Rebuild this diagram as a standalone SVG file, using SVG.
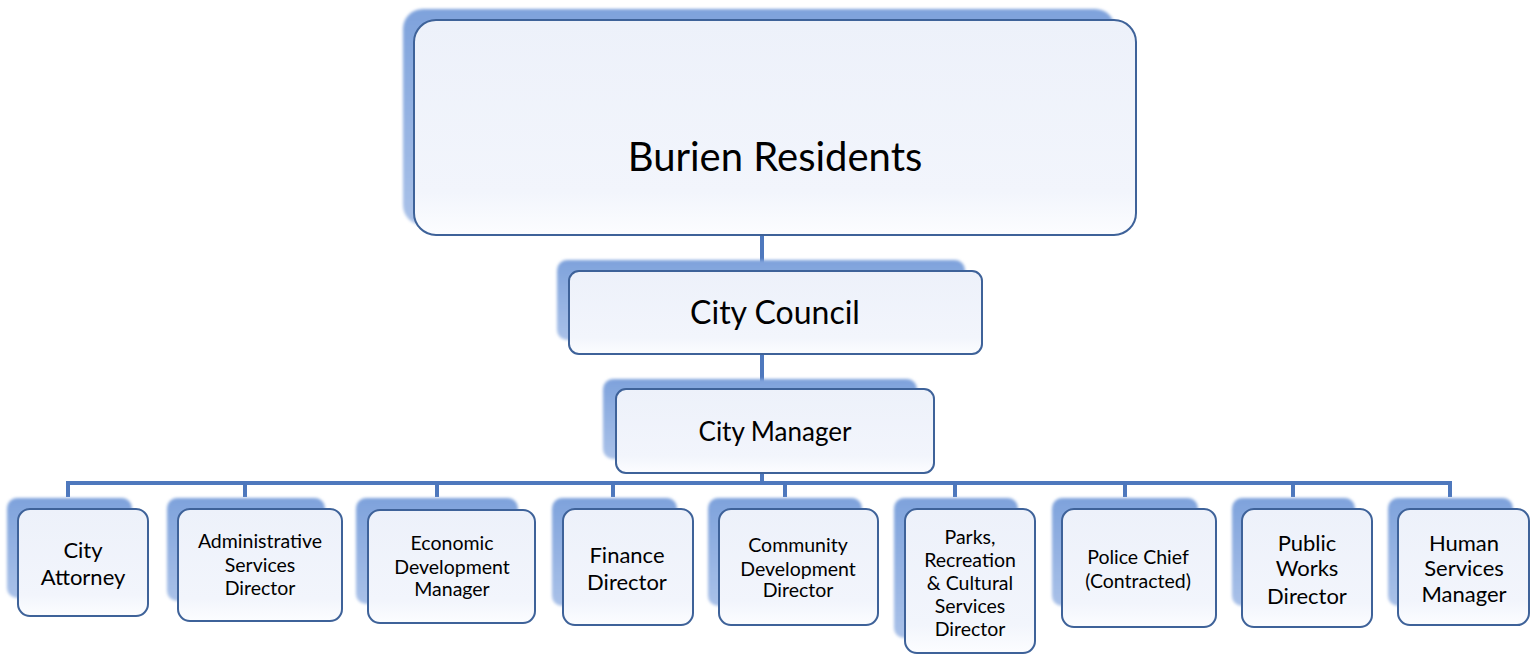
<svg xmlns="http://www.w3.org/2000/svg" width="1536" height="658" viewBox="0 0 1536 658">
<defs>
<linearGradient id="sh" x1="0" y1="0" x2="0" y2="1">
<stop offset="0" stop-color="#7ea2dc"/>
<stop offset="1" stop-color="#a9c1e8"/>
</linearGradient>
<linearGradient id="fr" x1="0" y1="0" x2="0" y2="1">
<stop offset="0" stop-color="#edf1fa"/>
<stop offset="0.8" stop-color="#f2f5fc"/>
<stop offset="1" stop-color="#fcfdff"/>
</linearGradient>
<filter id="blur" x="-10%" y="-10%" width="120%" height="120%">
<feGaussianBlur stdDeviation="1.5"/>
</filter>
</defs>
<style>
.sh{fill:url(#sh);filter:url(#blur);}
.fr{fill:url(#fr);stroke:#3e6299;stroke-width:2;}
.c{stroke:#4e78bd;stroke-width:4;fill:none;}
text{font-family:Lato,"Liberation Sans",sans-serif;fill:#000;text-anchor:middle;}
.t1{font-size:40px;}
.t2{font-size:32px;}
.t3{font-size:26px;}
.t4{font-size:22px;}
.t5{font-size:19.5px;}
</style>
<rect width="1536" height="658" fill="#fff"/>
<g id="connectors">
<line class="c" x1="762" y1="225" x2="762" y2="272"/>
<line class="c" x1="762" y1="350" x2="762" y2="390"/>
<line class="c" x1="762" y1="470" x2="762" y2="483"/>
<polyline class="c" points="68,497 68,483 1450,483 1450,497"/>
<line class="c" x1="245" y1="483" x2="245" y2="497"/>
<line class="c" x1="437" y1="483" x2="437" y2="497"/>
<line class="c" x1="613" y1="483" x2="613" y2="497"/>
<line class="c" x1="785" y1="483" x2="785" y2="497"/>
<line class="c" x1="955" y1="483" x2="955" y2="497"/>
<line class="c" x1="1125" y1="483" x2="1125" y2="497"/>
<line class="c" x1="1293" y1="483" x2="1293" y2="497"/>
</g>
<g id="burien">
<rect class="sh" x="403" y="9" width="712" height="216" rx="20"/>
<rect class="fr" x="414" y="20" width="722" height="215" rx="22"/>
<text class="t1" x="775" y="171">Burien Residents</text>
</g>
<g id="council">
<rect class="sh" x="557" y="260" width="408" height="80" rx="10"/>
<rect class="fr" x="569" y="271" width="413" height="83" rx="10"/>
<text class="t2" x="775" y="324">City Council</text>
</g>
<g id="manager">
<rect class="sh" x="603" y="379" width="314" height="80" rx="10"/>
<rect class="fr" x="616" y="389" width="318" height="84" rx="10"/>
<text class="t3" x="775" y="441">City Manager</text>
</g>
<g id="attorney">
<rect class="sh" x="7" y="498" width="125" height="100" rx="10"/>
<rect class="fr" x="18" y="509" width="130" height="107" rx="12"/>
<text class="t4" x="83" y="558">City</text>
<text class="t4" x="83" y="585">Attorney</text>
</g>
<g id="admin">
<rect class="sh" x="167" y="498" width="158" height="103" rx="10"/>
<rect class="fr" x="178" y="509" width="164" height="112" rx="12"/>
<text class="t5" x="260" y="548">Administrative</text>
<text class="t5" x="260" y="572">Services</text>
<text class="t5" x="260" y="595">Director</text>
</g>
<g id="economic">
<rect class="sh" x="356" y="498" width="162" height="106" rx="10"/>
<rect class="fr" x="368" y="510" width="167" height="113" rx="12"/>
<text class="t5" x="452" y="550">Economic</text>
<text class="t5" x="452" y="574">Development</text>
<text class="t5" x="452" y="596">Manager</text>
</g>
<g id="finance">
<rect class="sh" x="552" y="498" width="125" height="108" rx="10"/>
<rect class="fr" x="563" y="509" width="130" height="116" rx="12"/>
<text class="t4" x="627" y="563">Finance</text>
<text class="t4" x="627" y="590">Director</text>
</g>
<g id="community">
<rect class="sh" x="708" y="498" width="154" height="108" rx="10"/>
<rect class="fr" x="719" y="509" width="159" height="116" rx="12"/>
<text class="t5" x="798" y="552">Community</text>
<text class="t5" x="798" y="576">Development</text>
<text class="t5" x="798" y="597">Director</text>
</g>
<g id="parks">
<rect class="sh" x="894" y="498" width="124" height="140" rx="10"/>
<rect class="fr" x="905" y="509" width="130" height="144" rx="12"/>
<text class="t5" x="970" y="544">Parks,</text>
<text class="t5" x="970" y="567">Recreation</text>
<text class="t5" x="970" y="590">&amp; Cultural</text>
<text class="t5" x="970" y="613">Services</text>
<text class="t5" x="970" y="636">Director</text>
</g>
<g id="police">
<rect class="sh" x="1052" y="498" width="146" height="108" rx="10"/>
<rect class="fr" x="1062" y="509" width="154" height="118" rx="12"/>
<text class="t5" x="1138" y="564">Police Chief</text>
<text class="t5" x="1138" y="588">(Contracted)</text>
</g>
<g id="publicworks">
<rect class="sh" x="1232" y="498" width="123" height="108" rx="10"/>
<rect class="fr" x="1242" y="509" width="130" height="118" rx="12"/>
<text class="t4" x="1307" y="551">Public</text>
<text class="t4" x="1307" y="576">Works</text>
<text class="t4" x="1307" y="604">Director</text>
</g>
<g id="human">
<rect class="sh" x="1388" y="498" width="125" height="108" rx="10"/>
<rect class="fr" x="1398" y="509" width="131" height="116" rx="12"/>
<text class="t4" x="1464" y="551">Human</text>
<text class="t4" x="1464" y="576">Services</text>
<text class="t4" x="1464" y="602">Manager</text>
</g>
</svg>
